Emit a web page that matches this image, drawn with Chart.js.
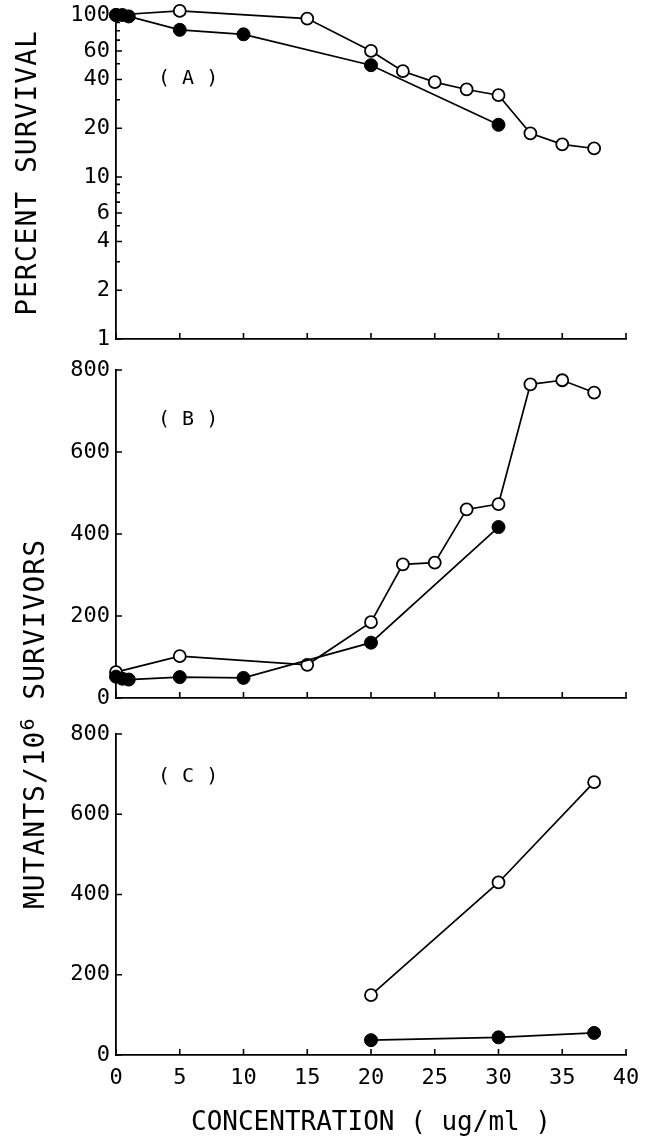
<!DOCTYPE html>
<html>
<head>
<meta charset="utf-8">
<script src="https://cdn.jsdelivr.net/npm/chart.js@4.4.0/dist/chart.umd.min.js"></script>
<style>
body { margin: 0; background: #fff; }
#wrap { position: relative; width: 645px; height: 1143px; overflow: hidden; font-family: "DejaVu Sans Mono", monospace; color: #000; }
#wrap canvas { position: absolute; left: 0; }
.lab { position: absolute; font-size: 20px; line-height: 20px; white-space: pre; }
.ytitle { position: absolute; width: 440px; height: 30px; line-height: 30px; text-align: center; font-size: 28px; letter-spacing: 1px; transform: rotate(-90deg); white-space: nowrap; }
.ytitle sup { font-size: 20px; }
</style>
</head>
<body>
<div id="wrap">
  <canvas id="chartA" width="645" height="360" style="top:0px"></canvas>
  <canvas id="chartB" width="645" height="360" style="top:360px"></canvas>
  <canvas id="chartC" width="645" height="423" style="top:720px"></canvas>
  <div class="lab" style="left:158px;top:67px">( A )</div>
  <div class="lab" style="left:158px;top:408px">( B )</div>
  <div class="lab" style="left:158px;top:765px">( C )</div>
  <div class="ytitle" style="left:-193px;top:158px">PERCENT SURVIVAL</div>
  <div class="ytitle" style="left:-193px;top:709px">MUTANTS/10<sup>6</sup> SURVIVORS</div>
</div>
<script>
// concentration (ug/ml)
var xOpen = [0, 5, 15, 20, 22.5, 25, 27.5, 30, 32.5, 35, 37.5];
var xFilled = [0, 0.5, 1, 5, 10, 20, 30];
var xC = [20, 30, 37.5];

// (A) percent survival
var survOpen = [100, 106, 95, 60, 45, 38.5, 34.7, 32, 18.6, 15.9, 15];
var survFilled = [100, 100, 98, 81, 76, 49, 21];

// (B) mutants / 10^6 survivors
var mutOpenB = [63, 102, 81, 185, 326, 330, 460, 473, 765, 775, 745];
var mutFilledB = [52, 47, 45, 51, 49, 135, 417];

// (C)
var mutOpenC = [149, 430, 680];
var mutFilledC = [37, 44, 55];

// ticks
var xTicks = [0, 5, 10, 15, 20, 25, 30, 35, 40];
var logTicks = [1, 2, 3, 4, 5, 6, 7, 8, 9, 10, 20, 30, 40, 50, 60, 70, 80, 90, 100];
var logLabels = [1, 2, 4, 6, 10, 20, 40, 60, 100];
var linTicks = [0, 200, 400, 600, 800];

Chart.defaults.font.family = '"DejaVu Sans Mono", monospace';
Chart.defaults.color = '#000';

function pts(xs, ys) {
  return xs.map(function (x, i) { return { x: x, y: ys[i] }; });
}

function openSet(data) {
  return { data: data, order: 1, borderColor: '#000', borderWidth: 1.7, pointRadius: 6, pointBorderWidth: 1.8,
    pointBackgroundColor: '#fff', pointBorderColor: '#000', clip: false, tension: 0 };
}
function filledSet(data) {
  return { data: data, order: 0, borderColor: '#000', borderWidth: 1.7, pointRadius: 6.5, pointBorderWidth: 1,
    pointBackgroundColor: '#000', pointBorderColor: '#000', clip: false, tension: 0 };
}

// tick marks pointing into the plot
var inwardTicks = {
  id: 'inwardTicks',
  afterDraw: function (chart) {
    var ctx = chart.ctx, a = chart.chartArea;
    var xs = chart.scales.x, ys = chart.scales.y;
    ctx.save();
    ctx.strokeStyle = '#000';
    ctx.lineWidth = 1.6;
    ctx.beginPath();
    xs.ticks.forEach(function (t) {
      var p = xs.getPixelForValue(t.value);
      ctx.moveTo(p, a.bottom);
      ctx.lineTo(p, a.bottom - 6);
    });
    ys.ticks.forEach(function (t) {
      var p = ys.getPixelForValue(t.value);
      var len = (ys.type === 'logarithmic' && logLabels.indexOf(t.value) < 0) ? 4 : 6;
      ctx.moveTo(a.left, p);
      ctx.lineTo(a.left + len, p);
    });
    ctx.stroke();
    ctx.restore();
  }
};

function makeChart(id, datasets, yScale, xHeight, topPad, showX) {
  var xScale = {
    type: 'linear', min: 0, max: 40,
    afterBuildTicks: function (s) { s.ticks = xTicks.map(function (v) { return { value: v }; }); },
    afterFit: function (s) { s.height = xHeight; s.paddingLeft = 0; s.paddingRight = 0; },
    grid: { display: false, drawTicks: false },
    border: { display: true, color: '#000', width: 1.8 },
    ticks: { display: showX, padding: 10, font: { size: 22 } },
    title: {
      display: showX, text: 'CONCENTRATION ( ug/ml )',
      font: { size: 26 }, padding: { top: 6, bottom: 4 }
    }
  };
  yScale.afterFit = function (s) { s.width = 116; s.paddingTop = 0; s.paddingBottom = 0; };
  yScale.grid = { display: false, drawTicks: false };
  yScale.border = { display: true, color: '#000', width: 1.8 };
  return new Chart(document.getElementById(id), {
    type: 'line',
    data: { datasets: datasets },
    options: {
      responsive: false,
      animation: false,
      events: [],
      layout: { autoPadding: false, padding: { top: topPad, right: 19, bottom: 0, left: 0 } },
      plugins: { legend: { display: false }, tooltip: { enabled: false } },
      scales: { x: xScale, y: yScale }
    },
    plugins: [inwardTicks]
  });
}

makeChart('chartA', [openSet(pts(xOpen, survOpen)), filledSet(pts(xFilled, survFilled))], {
  type: 'logarithmic', min: 1, max: 100,
  afterBuildTicks: function (s) { s.ticks = logTicks.map(function (v) { return { value: v }; }); },
  ticks: {
    padding: 6, font: { size: 22 }, autoSkip: false,
    callback: function (v) { return logLabels.indexOf(v) >= 0 ? String(v) : ''; }
  }
}, 21, 15, false);

makeChart('chartB', [openSet(pts(xOpen, mutOpenB)), filledSet(pts(xFilled, mutFilledB))], {
  type: 'linear', min: 0, max: 800,
  afterBuildTicks: function (s) { s.ticks = linTicks.map(function (v) { return { value: v }; }); },
  ticks: { padding: 6, font: { size: 22 } }
}, 22, 10, false);

makeChart('chartC', [openSet(pts(xC, mutOpenC)), filledSet(pts(xC, mutFilledC))], {
  type: 'linear', min: 0, max: 800,
  afterBuildTicks: function (s) { s.ticks = linTicks.map(function (v) { return { value: v }; }); },
  ticks: { padding: 6, font: { size: 22 } }
}, 88, 14, true);
</script>
</body>
</html>
